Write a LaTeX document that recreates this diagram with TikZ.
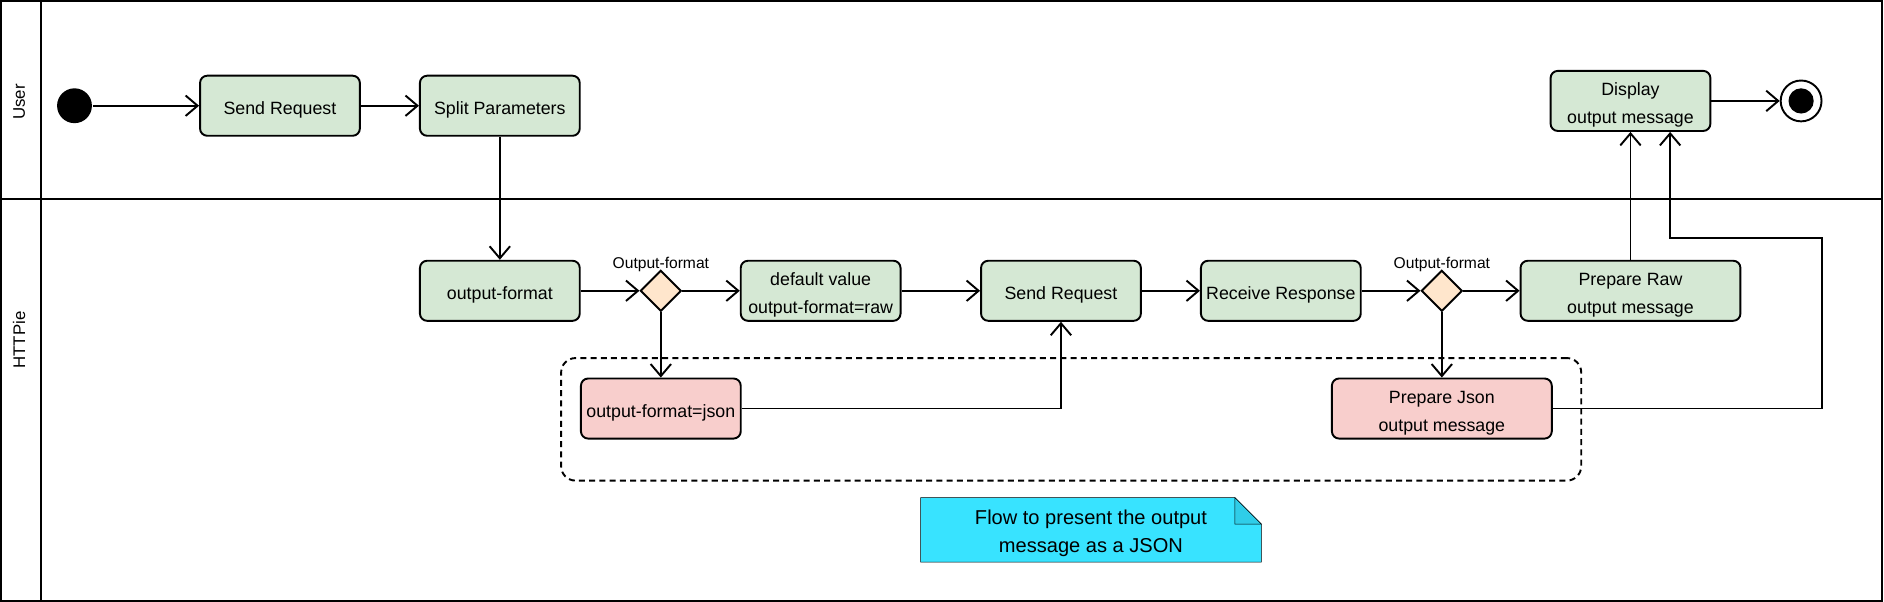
\documentclass[tikz,border=0pt]{standalone}
\usepackage{fontspec}
\setmainfont{Liberation Sans}
\usepackage{xcolor}
\usetikzlibrary{arrows.meta}
\usetikzlibrary{shapes.geometric}
\usetikzlibrary{backgrounds}
\definecolor{actgreen}{HTML}{D5E8D4}
\definecolor{actred}{HTML}{F8CECC}
\definecolor{choicefill}{HTML}{FFE6CC}
\definecolor{notecyan}{HTML}{38E3FF}
\definecolor{notefold}{HTML}{2FCDE8}
\newcommand{\actfont}{\fontsize{14.8}{23}\selectfont}
\newcommand{\guardfont}{\fontsize{13}{15}\selectfont}
\newcommand{\lanefont}{\fontsize{14}{16}\selectfont}
\newcommand{\notefont}{\fontsize{16.7}{23}\selectfont}
\newcommand{\lowstrut}{\rule{0pt}{17.5pt}}
\tikzset{>={Straight Barb[length=10pt,width=17pt]}}

\begin{document}
\begin{tikzpicture}[x=1pt, y=-1pt, line width=1.6pt]
  % two swimlanes (User, HTTPie); green = normal step, red = json flow
  \tikzstyle{act}=[rectangle, rounded corners=6pt, draw=black, fill=actgreen, minimum width=133pt, minimum height=50pt, inner sep=2pt, align=center, font=\actfont]
  \tikzstyle{actjson}=[act, fill=actred]
  \tikzstyle{choice}=[diamond, draw=black, fill=choicefill, minimum width=34pt, minimum height=34pt, inner sep=0pt]
  \tikzstyle{guard}=[label distance=-6pt, font=\guardfont]
  \tikzstyle{startstate}=[circle, fill=black, minimum size=29pt, inner sep=0pt]
  \tikzstyle{endstate}=[circle, draw=black, fill=white, minimum size=34pt, inner sep=0pt]
  \tikzstyle{every edge}=[draw, ->]
  \useasboundingbox (0,0) rectangle (1568,501);

  \draw (1,1) rectangle (1566,500);
  \draw (34,1) -- (34,500);
  \draw (1,166) -- (1566,166);
  \node[rotate=90, font=\lanefont] (userlane) at (16,85) {User};
  \node[rotate=90, font=\lanefont] (httplane) at (16,283) {HTTPie};

  \node[act] (sendreq) at (233,88) {\lowstrut Send Request};
  \node[startstate, left of=sendreq, node distance=171pt] (start) {};
  \node[act, right of=sendreq, node distance=183pt] (split) {\lowstrut Split Parameters};
  \draw (start) edge (sendreq);
  \draw (sendreq) edge (split);

  \node[act, below of=split, node distance=154pt] (outfmt) {\lowstrut output-format};
  \draw (split) edge (outfmt);
  \node[choice, right of=outfmt, node distance=134pt, label={[guard]above:Output-format}] (dec1) {};
  \draw (outfmt) edge (dec1);
  \node[act, right of=dec1, node distance=133pt] (default) {\lowstrut default value\\output-format=raw};
  \draw (dec1) edge (default);
  \node[act, right of=default, node distance=200pt] (send) {\lowstrut Send Request};
  \draw (default) edge (send);
  \node[act, right of=send, node distance=183pt] (recv) {\lowstrut Receive Response};
  \draw (send) edge (recv);
  \node[choice, right of=recv, node distance=134pt, label={[guard]above:Output-format}] (dec2) {};
  \draw (recv) edge (dec2);
  \node[act, minimum width=183pt, right of=dec2, node distance=157pt] (raw) {\lowstrut Prepare Raw\\output message};
  \draw (dec2) edge (raw);

  \node[actjson, below of=dec1, node distance=98pt] (json) {\lowstrut output-format=json};
  \draw (dec1) edge (json);
  \draw[->] (json) -| (send);
  \node[actjson, minimum width=183pt, below of=dec2, node distance=98pt] (pjson) {\lowstrut Prepare Json\\output message};
  \draw (dec2) edge (pjson);

  \node[act, above of=raw, node distance=158pt] (display) {\lowstrut Display\\output message};
  \draw (raw) edge (display);
  \coordinate (turn) at (1516,198);
  \draw[->] (pjson) -| (turn) -| ([xshift=33pt]display.south);
  \node[endstate, right of=display, node distance=142pt] (end) {};
  \node[circle, fill=black, minimum size=21pt, inner sep=0pt] (endcore) at (end) {};
  \draw (display) edge (end);

  \node[draw, dashed, dash pattern=on 5pt off 3.5pt, rounded corners=12pt, minimum width=849pt, minimum height=102pt] (jsongroup) at (891.5,349) {};

  \node[minimum width=282pt, minimum height=52pt, align=center, font=\notefont] (note) at (908,441) {\lowstrut Flow to present the output\\message as a JSON};
  \begin{scope}[on background layer]
    \draw[fill=notecyan] (note.north west) -- ([xshift=-22pt]note.north east) -- ([yshift=-22pt]note.north east) -- (note.south east) -- (note.south west) -- cycle;
    \draw[fill=notefold] ([xshift=-22pt]note.north east) -- ([xshift=-22pt, yshift=-22pt]note.north east) -- ([yshift=-22pt]note.north east) -- cycle;
  \end{scope}
\end{tikzpicture}
\end{document}
